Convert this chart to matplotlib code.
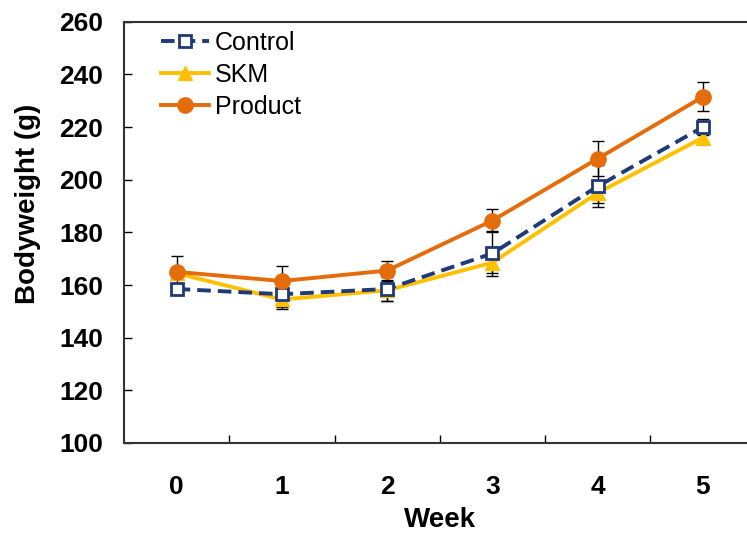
import numpy as np
import matplotlib.pyplot as plt

weeks = ["0", "1", "2", "3", "4", "5"]
control = [158.5, 156.5, 158.5, 172.0, 197.5, 220.0]
control_err = [1.5, 5.5, 4.5, 8.5, 8.0, 3.0]
skm = [164.5, 154.5, 158.0, 168.5, 195.0, 216.0]
skm_err = [1.0, 3.0, 4.0, 4.0, 4.0, 2.0]
product = [165.0, 161.5, 165.5, 184.5, 208.0, 231.5]
product_err = [6.0, 5.7, 3.8, 4.2, 6.7, 5.5]

plt.rcParams['font.family'] = ['Liberation Sans Narrow', 'Liberation Sans', 'DejaVu Sans']

fig = plt.figure(figsize=(7.47, 5.33), dpi=100)
ax = fig.add_axes([0.166, 0.169, 0.8454, 0.79])

x = np.arange(len(weeks))

ebkw = dict(ecolor='black', elinewidth=1.0, capsize=4, capthick=1.0, zorder=2)
ax.errorbar(x, control, yerr=control_err, fmt='none', **ebkw)
ax.errorbar(x, skm, yerr=skm_err, fmt='none', **ebkw)
ax.errorbar(x, product, yerr=product_err, fmt='none', **ebkw)

ax.plot(x, control, color='#1F3A78', linestyle=(0, (3.5, 1.8)), linewidth=2.8,
        marker='s', markersize=9, markerfacecolor='white',
        markeredgecolor='#1F3A78', markeredgewidth=2, label='Control', zorder=4)
ax.plot(x, skm, color='#FFC000', linewidth=2.8, marker='^', markersize=10,
        markeredgecolor='#FFC000', label='SKM', zorder=3)
ax.plot(x, product, color='#E46C0A', linewidth=2.8, marker='o', markersize=11,
        markeredgecolor='#E46C0A', label='Product', zorder=5)

ax.set_xlim(-0.5, 5.5)
ax.set_ylim(100, 260)
ax.set_yticks(np.arange(100, 261, 20))
ax.set_xticks(x)
ax.set_xticklabels(weeks)
ax.set_xticks(x[:-1] + 0.5, minor=True)

ax.tick_params(axis='x', which='major', length=0, pad=23, labelsize=19)
ax.tick_params(axis='x', which='minor', direction='in', length=6, width=1)
ax.tick_params(axis='y', direction='in', length=6, width=1, pad=15, labelsize=19)
for lab in ax.get_xticklabels() + ax.get_yticklabels():
    lab.set_fontweight('bold')

for sp in ax.spines.values():
    sp.set_linewidth(1.5)
    sp.set_color('#333333')

ax.set_xlabel('Week', fontsize=20, fontweight='bold', labelpad=6)
ax.set_ylabel('Bodyweight (g)', fontsize=20, fontweight='bold')
ax.yaxis.set_label_coords(-0.132, 0.568)

ax.legend(loc='upper left', bbox_to_anchor=(0.035, 1.014), frameon=False,
          fontsize=18, handlelength=1.9, handletextpad=0.25, labelspacing=0.32,
          borderaxespad=0.2)

fig.savefig('out.png', dpi=100)
